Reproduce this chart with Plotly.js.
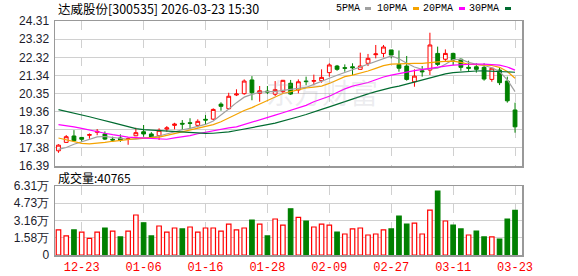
<!DOCTYPE html>
<html>
<head>
<meta charset="utf-8">
<script src="https://cdn.plot.ly/plotly-3.0.1.min.js"></script>
<style>
  html, body { margin: 0; padding: 0; background: #fff; }
  #chart { width: 578px; height: 276px; }
</style>
</head>
<body>
<div id="chart"></div>
<script>
// ---- data ----
const dates = ['12-18','12-19','12-22','12-23','12-24','12-25','12-26','12-29','12-30','12-31',
  '01-05','01-06','01-07','01-08','01-09','01-12','01-13','01-14','01-15','01-16',
  '01-19','01-20','01-21','01-22','01-23','01-26','01-27','01-28','01-29','01-30',
  '02-02','02-03','02-04','02-05','02-06','02-09','02-10','02-11','02-12','02-13',
  '02-24','02-25','02-26','02-27','03-02','03-03','03-04','03-05','03-06','03-09',
  '03-10','03-11','03-12','03-13','03-16','03-17','03-18','03-19','03-20','03-23'];

const openP = [17.22,17.68,18.03,17.95,18.07,18.23,18.14,17.85,17.92,17.85,
  18.04,18.26,18.14,18.04,18.41,18.61,18.72,18.75,18.61,18.94,
  18.95,19.77,19.52,20.27,20.34,21.09,20.36,20.48,20.31,20.45,
  20.91,20.54,21.03,21.02,21.05,21.49,21.85,21.76,21.81,21.67,
  22.00,22.47,22.54,22.73,21.93,21.85,20.99,21.59,21.63,22.54,
  22.22,22.54,22.22,21.78,21.81,21.78,21.12,21.63,21.03,19.45];
const highP = [17.58,18.08,18.35,17.97,18.17,18.41,18.28,17.99,18.12,17.95,
  18.48,18.63,18.24,18.45,18.57,18.75,18.90,19.00,18.94,19.17,
  19.54,19.87,20.39,20.58,21.12,21.30,20.76,20.76,21.03,21.09,
  21.09,21.12,21.27,21.38,21.67,22.00,21.91,21.94,22.00,22.58,
  22.51,23.00,23.00,22.73,22.70,22.40,21.67,21.85,23.67,22.91,
  22.76,22.58,22.27,22.14,22.00,22.00,21.73,21.78,21.27,19.85];
const lowP = [17.11,17.66,17.75,17.71,17.88,18.07,17.81,17.70,17.71,17.55,
  18.02,17.99,17.88,17.81,18.26,18.39,18.35,18.45,18.50,18.68,
  18.90,19.41,19.46,20.21,20.28,19.98,19.90,20.32,20.21,20.33,
  20.27,20.36,20.80,20.80,20.94,21.27,21.59,21.54,21.36,21.67,
  21.85,22.27,22.33,22.27,21.54,21.05,20.72,21.27,21.36,21.85,
  22.09,21.91,21.59,21.54,21.49,21.05,20.99,20.81,19.85,18.21];
const closeP = [17.53,17.99,17.77,17.85,18.10,18.28,17.86,17.81,17.81,17.88,
  18.21,18.14,17.97,18.34,18.47,18.68,18.68,18.72,18.83,18.90,
  19.48,19.65,20.20,20.32,21.03,20.39,20.50,20.43,20.56,21.07,
  20.32,20.99,21.00,21.05,21.23,21.91,21.67,21.73,21.76,21.85,
  22.27,22.51,22.89,22.45,21.73,21.12,21.30,21.54,23.00,21.94,
  22.54,22.18,21.78,21.73,21.67,21.14,21.73,20.94,19.95,18.53];

const ma5 = [17.30,17.40,17.58,17.72,17.82,17.98,18.00,17.95,17.88,17.85,
  17.86,17.90,17.95,18.03,18.15,18.28,18.37,18.45,18.55,18.66,
  18.85,19.15,19.50,19.85,20.15,20.30,20.42,20.45,20.46,20.52,
  20.57,20.61,20.68,20.85,21.00,21.18,21.35,21.50,21.67,21.80,
  21.95,22.10,22.25,22.40,22.25,22.00,21.80,21.67,21.70,21.73,
  21.95,22.20,22.22,22.05,21.95,21.88,21.76,21.55,21.10,20.45];
const ma10 = [17.92,17.82,17.72,17.63,17.60,17.63,17.68,17.74,17.80,17.84,
  17.88,17.91,17.93,17.97,18.06,18.16,18.24,18.32,18.42,18.52,
  18.65,18.81,19.02,19.25,19.42,19.58,19.78,19.98,20.17,20.35,
  20.45,20.55,20.65,20.70,20.75,20.90,21.08,21.27,21.35,21.45,
  21.58,21.72,21.87,21.95,21.98,22.00,22.00,22.00,22.05,22.08,
  22.10,22.12,22.05,21.95,21.92,21.91,21.88,21.78,21.55,21.18];
const ma20 = [18.65,18.60,18.53,18.45,18.35,18.26,18.18,18.10,18.02,17.97,
  17.94,17.91,17.88,17.85,17.85,17.93,17.98,18.05,18.15,18.24,
  18.33,18.39,18.47,18.53,18.65,18.78,18.90,19.02,19.17,19.30,
  19.42,19.55,19.70,19.90,20.05,20.20,20.40,20.60,20.75,20.85,
  20.95,21.10,21.25,21.35,21.45,21.52,21.60,21.67,21.72,21.78,
  21.85,21.90,21.93,21.96,21.96,21.95,21.94,21.90,21.80,21.63];
const ma30 = [19.47,19.38,19.30,19.17,19.08,18.97,18.88,18.76,18.65,18.53,
  18.43,18.38,18.35,18.33,18.31,18.29,18.25,18.22,18.19,18.17,
  18.18,18.21,18.25,18.33,18.40,18.48,18.56,18.65,18.73,18.86,
  18.98,19.08,19.20,19.36,19.48,19.62,19.76,19.90,20.08,20.20,
  20.33,20.45,20.58,20.67,20.75,20.86,20.99,21.12,21.22,21.32,
  21.42,21.49,21.53,21.56,21.58,21.59,21.58,21.56,21.54,21.51];

// volume in 万 (10k shares)
const volume = [2.29,1.74,2.29,2.10,1.52,2.10,2.47,2.19,1.65,2.19,
  3.66,2.95,1.74,2.65,2.10,2.47,2.38,2.56,2.10,2.47,
  2.47,2.19,2.83,2.29,2.47,3.20,2.83,1.74,3.29,2.74,
  4.23,3.44,3.11,2.56,2.83,2.74,2.10,1.92,2.38,2.47,
  1.83,1.92,2.29,2.38,3.56,2.83,2.92,1.92,4.11,5.85,
  3.11,2.74,2.38,1.83,2.19,1.65,1.65,1.46,3.29,4.0765];
// 1 = up day (red hollow bar), 0 = down day (green bar)
const volUp = [1,1,0,1,1,1,0,1,0,1, 1,0,0,1,1,1,0,1,1,1,
  1,1,1,1,1,0,1,0,1,1, 0,1,0,1,1,1,0,1,1,1,
  1,1,1,0,0,0,1,1,1,0, 1,0,0,1,0,0,1,0,0,0];

const xTickLabels = ['12-23','01-06','01-16','01-28','02-09','02-27','03-11','03-23'];
const priceTickLabels = ['16.39','17.38','18.37','19.36','20.35','21.34','22.32','23.32','24.31'];
const volTickVals = [0, 1.58, 3.16, 4.73, 6.31];
const volTickLabels = ['0','1.58万','3.16万','4.73万','6.31万'];
const stockTitle = '达威股份[300535] 2026-03-23 15:30';
const volLabel = '成交量:40765';
const maNames = ['5PMA','10PMA','20PMA','30PMA'];

// ---- styling ----
const RED = '#ff0000', GREEN = '#008000';
const maColors = ['#a0a0a0', '#f5a300', '#ff00ff', '#006b30'];
const W = 578, H = 276, ML = 55, MR = 56, MT = 21, MB = 21;
const PW = W - ML - MR, PH = H - MT - MB;
const px = x => (x - ML) / PW;
const py = y => (H - MB - y) / PH;

const traces = [];
traces.push({
  type: 'candlestick', x: dates, open: openP, high: highP, low: lowP, close: closeP,
  xaxis: 'x', yaxis: 'y',
  increasing: { line: { color: RED, width: 1 }, fillcolor: '#ffffff' },
  decreasing: { line: { color: GREEN, width: 1 }, fillcolor: GREEN },
  whiskerwidth: 0, hoverinfo: 'skip', showlegend: false
});
[ma5, ma10, ma20, ma30].forEach((m, k) => {
  traces.push({
    type: 'scatter', mode: 'lines', x: dates, y: m, xaxis: 'x', yaxis: 'y',
    line: { color: maColors[k], width: 1.2 }, hoverinfo: 'skip', showlegend: false
  });
});
traces.push({
  type: 'bar', x: dates, y: volume, xaxis: 'x2', yaxis: 'y2', width: 0.58,
  marker: {
    color: volUp.map(u => u ? '#ffffff' : GREEN),
    line: { color: volUp.map(u => u ? RED : GREEN), width: 1.2 }
  },
  hoverinfo: 'skip', showlegend: false
});

const xRange = [-0.45, dates.length - 0.1];
const gridCol = '#d0d0d0', frameCol = '#999999';
const axFont = { family: 'Liberation Sans, Arial, sans-serif', size: 12, color: '#1c1c2c' };

const annotations = [
  { text: stockTitle, xref: 'paper', yref: 'paper', x: px(56), y: py(9), xanchor: 'left', yanchor: 'middle',
    showarrow: false, font: { family: 'Noto Sans CJK SC', size: 12.5, color: '#000' } },
  { text: volLabel, xref: 'paper', yref: 'paper', x: px(56), y: py(177), xanchor: 'left', yanchor: 'middle',
    showarrow: false, font: { family: 'Noto Sans CJK SC', size: 12, color: '#000' } },
  { text: '东方财富', xref: 'paper', yref: 'paper', x: px(322), y: py(92), xanchor: 'center', yanchor: 'middle',
    showarrow: false, font: { family: 'Noto Sans CJK SC', size: 28, color: 'rgba(170,170,185,0.22)' } }
];
const legendRight = [362, 409, 455, 501];
const swatchX = [365, 413, 459, 505];
const shapes = [];
maNames.forEach((n, k) => {
  annotations.push({ text: n, xref: 'paper', yref: 'paper', x: px(legendRight[k]), y: py(9),
    xanchor: 'right', yanchor: 'middle', showarrow: false,
    font: { family: 'Liberation Mono, DejaVu Sans Mono, monospace', size: 10, color: '#000' } });
  shapes.push({ type: 'rect', xref: 'paper', yref: 'paper', x0: px(swatchX[k]), x1: px(swatchX[k] + 6),
    y0: py(10), y1: py(7), fillcolor: maColors[k], line: { width: 0 } });
});

const layout = {
  width: W, height: H,
  margin: { l: ML, r: MR, t: MT, b: MB, pad: 0 },
  paper_bgcolor: '#fff', plot_bgcolor: '#fff',
  showlegend: false,
  xaxis: {
    type: 'category', domain: [0, 1], anchor: 'y', range: xRange,
    tickvals: xTickLabels, showticklabels: false, ticks: '',
    showgrid: true, gridcolor: gridCol, griddash: 'dash', gridwidth: 1,
    showline: true, linecolor: frameCol, linewidth: 1.5, mirror: true,
    rangeslider: { visible: false }, zeroline: false, fixedrange: true
  },
  yaxis: {
    domain: [py(166), 1], anchor: 'x', range: [16.39, 24.31],
    tickvals: priceTickLabels.map(parseFloat), ticktext: priceTickLabels,
    tickfont: axFont, ticks: '', ticklabelstandoff: 2,
    showgrid: true, gridcolor: gridCol, gridwidth: 1.2,
    showline: true, linecolor: frameCol, linewidth: 1.5, mirror: true, zeroline: false, fixedrange: true
  },
  xaxis2: {
    type: 'category', domain: [0, 1], anchor: 'y2', range: xRange, matches: 'x',
    tickvals: xTickLabels, ticktext: xTickLabels, ticks: '',
    tickfont: { family: 'Liberation Mono, DejaVu Sans Mono, monospace', size: 12, color: RED },
    showgrid: true, gridcolor: gridCol, griddash: 'dash', gridwidth: 1,
    showline: true, linecolor: frameCol, linewidth: 1.5, mirror: true, zeroline: false, fixedrange: true
  },
  yaxis2: {
    domain: [0, py(186)], anchor: 'x2', range: [0, 6.31],
    tickvals: volTickVals, ticktext: volTickLabels, tickfont: axFont, ticks: '', ticklabelstandoff: 2,
    showgrid: true, gridcolor: gridCol, gridwidth: 1.2,
    showline: true, linecolor: frameCol, linewidth: 1.5, mirror: true, zeroline: false, fixedrange: true
  },
  bargap: 0.4,
  annotations: annotations,
  shapes: shapes
};

Plotly.newPlot('chart', traces, layout, { displayModeBar: false, staticPlot: true });
</script>
</body>
</html>
